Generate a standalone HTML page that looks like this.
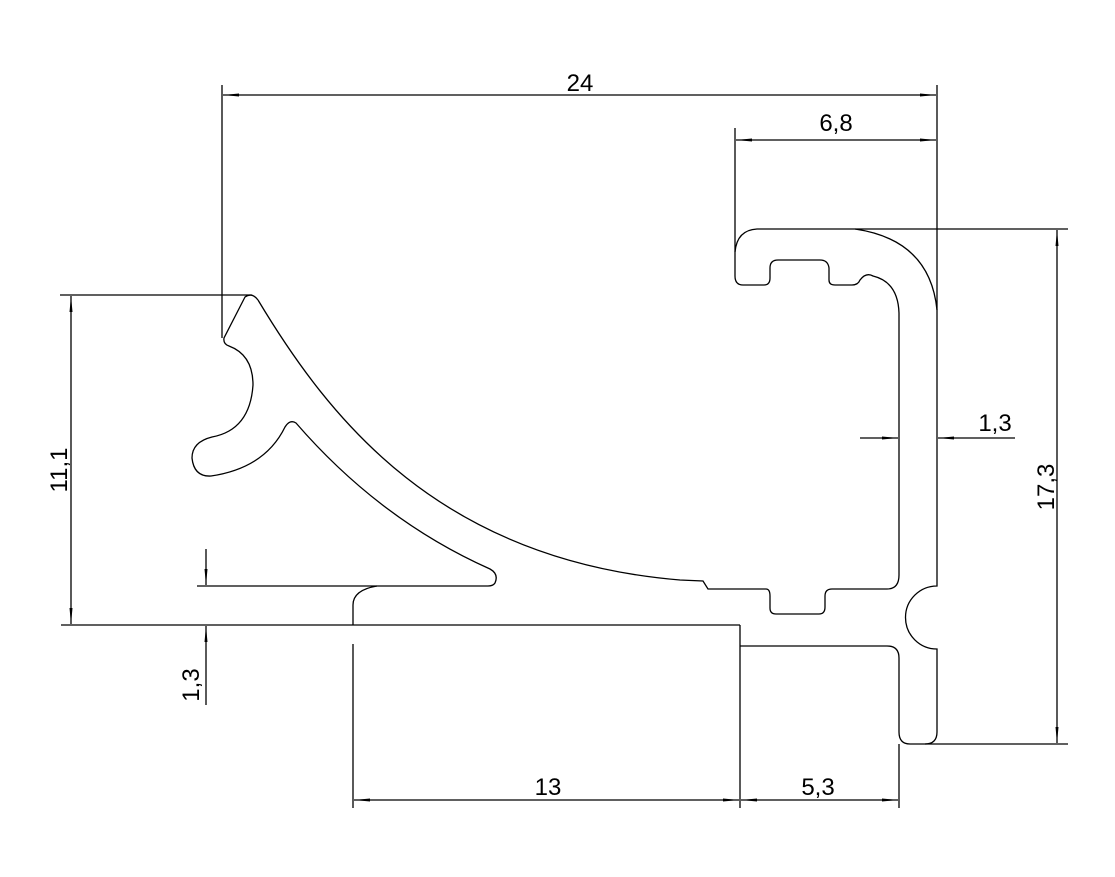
<!DOCTYPE html>
<html><head><meta charset="utf-8"><style>
html,body{margin:0;padding:0;background:#fff;}
svg{display:block;}
text{font-family:"Liberation Sans",sans-serif;font-size:24px;fill:#000;}
</style></head><body>
<svg width="1115" height="877" viewBox="0 0 1115 877" xmlns="http://www.w3.org/2000/svg">
<defs>
<marker id="a" viewBox="0 0 16 6" refX="16" refY="3" markerWidth="16" markerHeight="6" markerUnits="userSpaceOnUse" orient="auto-start-reverse">
<path d="M0,1.5 L16,3 L0,4.5 Z" fill="#000"/>
</marker>
</defs>
<g fill="none" stroke="#000" stroke-width="1.3">
<path d="M258,300 C330,420 440,560 680,580 L703,581 L708,589 L766,589 Q770,589 770,596 L770,608 Q770,614 776,614 L819,614 Q825,614 825,607 L825,596 Q825,589 832,589 L887,589 Q899,589 899,575 L899,313 Q898,282 873,276 Q866,272 860,280 Q858,285 852,285 L835,285 Q829,285 829,280 L829,268 Q828,260 820,260 L778,260 Q770,260 770,268 L770,278 Q770,285 764,285 L743,285 Q735,285 735,276 L735,252 Q737,230 757,229 L855,229 Q930,240 937,310 L937,586 A31,31 0 0 0 937,649 L937,732 Q937,744 925,744 L910,744 Q899,744 899,732 L899,658 Q899,646 887,646 L740,646"/>
<path d="M258,300 Q252,292 245,297 L224,338 Q223,344 229,346 Q253,355 253,385 Q250,430 212,437 Q192,442 192,458 Q194,477 211,476 Q265,468 285,427 Q290,419 296,423 Q380,520 490,569 Q499,574 495,583 Q493,586 488,586 L377,586 Q353,590 353,605 L353,625"/>
<line x1="222" y1="85" x2="222" y2="338"/>
<line x1="937" y1="85" x2="937" y2="310"/>
<line x1="735" y1="128" x2="735" y2="252"/>
<line x1="855" y1="229" x2="1068" y2="229"/>
<line x1="925" y1="744" x2="1068" y2="744"/>
<line x1="60" y1="295" x2="252" y2="295"/>
<line x1="61" y1="625" x2="740" y2="625"/>
<line x1="740" y1="625" x2="740" y2="808"/>
<line x1="197" y1="586" x2="377" y2="586"/>
<line x1="353" y1="644" x2="353" y2="808"/>
<line x1="899" y1="744" x2="899" y2="808"/>
<line x1="223" y1="95" x2="936" y2="95" marker-start="url(#a)" marker-end="url(#a)"/>
<line x1="736" y1="140" x2="936" y2="140" marker-start="url(#a)" marker-end="url(#a)"/>
<line x1="1057" y1="230" x2="1057" y2="743" marker-start="url(#a)" marker-end="url(#a)"/>
<line x1="71" y1="296" x2="71" y2="624" marker-start="url(#a)" marker-end="url(#a)"/>
<line x1="354" y1="800" x2="739" y2="800" marker-start="url(#a)" marker-end="url(#a)"/>
<line x1="741" y1="800" x2="898" y2="800" marker-start="url(#a)" marker-end="url(#a)"/>
<line x1="206" y1="549" x2="206" y2="585" marker-end="url(#a)"/>
<line x1="206" y1="705" x2="206" y2="626" marker-end="url(#a)"/>
<line x1="860" y1="438" x2="898" y2="438" marker-end="url(#a)"/>
<line x1="1015" y1="438" x2="938" y2="438" marker-end="url(#a)"/>
</g>
<text x="580" y="91" text-anchor="middle">24</text>
<text x="836" y="131" text-anchor="middle">6,8</text>
<text x="995" y="431" text-anchor="middle">1,3</text>
<text x="548" y="795" text-anchor="middle">13</text>
<text x="818" y="795" text-anchor="middle">5,3</text>
<text transform="translate(1054,487) rotate(-90)" text-anchor="middle">17,3</text>
<text transform="translate(67,470) rotate(-90)" text-anchor="middle">11,1</text>
<text transform="translate(199,685) rotate(-90)" text-anchor="middle">1,3</text>
</svg>
</body></html>
